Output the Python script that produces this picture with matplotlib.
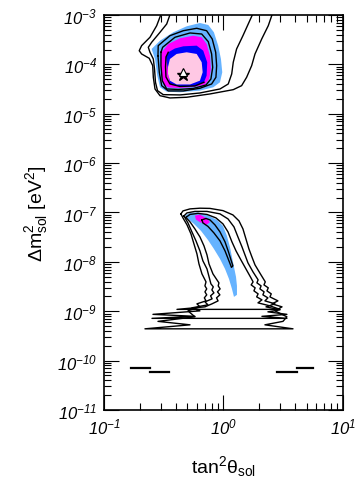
import numpy as np
import matplotlib
matplotlib.use("Agg")
import matplotlib.pyplot as plt

plt.rcParams["font.family"] = ["Liberation Sans", "DejaVu Sans"]
plt.rcParams["mathtext.fontset"] = "custom"
plt.rcParams["mathtext.rm"] = "Liberation Sans"
plt.rcParams["mathtext.it"] = "Liberation Sans:italic"
plt.rcParams["mathtext.sf"] = "Liberation Sans:italic"

# Region outlines, as (log10 tan^2, log10 dm^2) pairs
# --- LMA solution (upper island) ---
lma_blue = [(-0.601, -3.688), (-0.531, -3.520), (-0.420, -3.350), (-0.308, -3.229),
            (-0.197, -3.162), (-0.127, -3.202), (-0.080, -3.350), (-0.044, -3.621),
            (-0.021, -3.891), (-0.010, -4.160), (-0.029, -4.362), (-0.085, -4.464),
            (-0.197, -4.532), (-0.364, -4.565), (-0.475, -4.553), (-0.531, -4.464),
            (-0.554, -4.229), (-0.573, -3.891)]
lma_magenta = [(-0.523, -3.891), (-0.517, -3.755), (-0.462, -3.587), (-0.364, -3.472),
               (-0.253, -3.419), (-0.182, -3.451), (-0.141, -3.587), (-0.113, -3.824),
               (-0.105, -4.093), (-0.119, -4.296), (-0.155, -4.411), (-0.253, -4.458),
               (-0.364, -4.478), (-0.462, -4.468), (-0.504, -4.397), (-0.523, -4.160)]
lma_darkblue = [(-0.481, -3.850), (-0.462, -3.755), (-0.406, -3.678), (-0.336, -3.634),
                (-0.224, -3.621), (-0.169, -3.723), (-0.136, -3.957), (-0.141, -4.229),
                (-0.163, -4.362), (-0.239, -4.437), (-0.364, -4.447), (-0.448, -4.397)]
lma_pink = [(-0.464, -4.053), (-0.448, -3.891), (-0.392, -3.789), (-0.308, -3.755),
            (-0.224, -3.789), (-0.182, -3.957), (-0.174, -4.160), (-0.197, -4.330),
            (-0.280, -4.407), (-0.392, -4.407), (-0.448, -4.330), (-0.464, -4.194)]
lma_line_in = [(-0.163, -4.362), (-0.239, -4.437), (-0.364, -4.447), (-0.448, -4.397),
               (-0.481, -4.255), (-0.485, -4.053), (-0.481, -3.850), (-0.462, -3.755)]
lma_line2 = [(-0.523, -3.755), (-0.509, -3.654), (-0.406, -3.451), (-0.280, -3.364),
             (-0.182, -3.385), (-0.127, -3.540), (-0.099, -3.789), (-0.090, -4.059),
             (-0.105, -4.296), (-0.146, -4.417), (-0.253, -4.488), (-0.378, -4.508),
             (-0.475, -4.498), (-0.512, -4.330), (-0.523, -4.026)]
lma_line1 = [(-0.548, -3.824), (-0.546, -3.621), (-0.448, -3.419), (-0.336, -3.318),
             (-0.224, -3.269), (-0.141, -3.318), (-0.094, -3.486), (-0.065, -3.755),
             (-0.057, -4.026), (-0.063, -4.261), (-0.099, -4.397), (-0.197, -4.484),
             (-0.336, -4.538), (-0.462, -4.538), (-0.517, -4.431), (-0.537, -4.160)]
lma_open_a = [(-0.506, -2.879), (-0.559, -3.217), (-0.615, -3.451), (-0.685, -3.621),
              (-0.705, -3.723), (-0.685, -3.789), (-0.621, -3.877), (-0.592, -4.026),
              (-0.587, -4.261), (-0.573, -4.498), (-0.531, -4.634), (-0.448, -4.680),
              (-0.308, -4.666), (-0.113, -4.599), (0.082, -4.512), (0.152, -4.431),
              (0.194, -4.261), (0.236, -4.026), (0.264, -3.789), (0.320, -3.486),
              (0.375, -3.217), (0.423, -2.879)]
lma_open_b = [(-0.431, -2.879), (-0.475, -3.182), (-0.531, -3.350), (-0.601, -3.553),
              (-0.629, -3.654), (-0.615, -3.755), (-0.587, -3.891), (-0.577, -4.093),
              (-0.569, -4.362), (-0.552, -4.532), (-0.504, -4.613), (-0.364, -4.619),
              (-0.197, -4.579), (-0.029, -4.498), (0.040, -4.397), (0.069, -4.194),
              (0.082, -3.957), (0.110, -3.688), (0.163, -3.419), (0.264, -2.879)]
lma_best_star = (-0.336, -4.22)
lma_best_tri = (-0.336, -4.15)

# --- LOW solution (lower island) ---
low_blue = [(-0.322, -7.063), (-0.280, -7.008), (-0.213, -6.998), (-0.138, -7.049),
            (-0.054, -7.150), (-0.004, -7.271), (0.029, -7.474), (0.054, -7.696),
            (0.071, -7.899), (0.088, -8.101), (0.105, -8.304), (0.113, -8.486),
            (0.113, -8.668), (0.088, -8.709), (0.071, -8.547), (0.046, -8.344),
            (0.013, -8.142), (-0.029, -7.939), (-0.080, -7.737), (-0.130, -7.555),
            (-0.188, -7.372), (-0.247, -7.231), (-0.297, -7.130)]
low_magenta = [(-0.239, -7.063), (-0.197, -7.043), (-0.141, -7.115), (-0.113, -7.196),
               (-0.141, -7.245), (-0.197, -7.196), (-0.230, -7.144)]
low_line_in = [(-0.180, -7.150), (-0.146, -7.120), (-0.113, -7.150), (-0.071, -7.251),
               (-0.029, -7.393), (0.013, -7.595), (0.042, -7.798), (0.063, -7.960),
               (0.079, -8.081), (0.067, -8.111), (0.046, -7.980), (0.013, -7.777),
               (-0.029, -7.575), (-0.080, -7.413), (-0.130, -7.281), (-0.172, -7.211)]
low_c1 = [(-0.356, -7.028), (-0.339, -6.968), (-0.280, -6.927), (-0.197, -6.913),
          (-0.113, -6.917), (-0.004, -6.962), (0.079, -7.049), (0.130, -7.170),
          (0.163, -7.332), (0.188, -7.534), (0.213, -7.737), (0.238, -7.899),
          (0.264, -8.061), (0.314, -8.263), (0.350, -8.405), (0.339, -8.466),
          (0.375, -8.526), (0.364, -8.587), (0.400, -8.648), (0.389, -8.709),
          (0.456, -8.790), (0.406, -8.850), (0.490, -8.911), (0.431, -8.992),
          (0.531, -9.113), (0.498, -9.205), (0.347, -9.275), (0.582, -9.356),
          (-0.657, -9.356), (-0.280, -9.275), (-0.548, -9.205), (-0.239, -9.113),
          (-0.297, -8.992), (-0.197, -8.911), (-0.222, -8.850), (-0.146, -8.790),
          (-0.160, -8.729), (-0.140, -8.668), (-0.155, -8.607), (-0.140, -8.547),
          (-0.155, -8.486), (-0.146, -8.405), (-0.180, -8.243), (-0.205, -8.041),
          (-0.222, -7.838), (-0.247, -7.636), (-0.272, -7.433), (-0.305, -7.251),
          (-0.339, -7.109)]
low_c2 = [(-0.331, -7.069), (-0.305, -7.008), (-0.239, -6.978), (-0.138, -6.978),
          (-0.029, -7.028), (0.038, -7.130), (0.088, -7.292), (0.121, -7.494),
          (0.155, -7.696), (0.180, -7.858), (0.205, -8.020), (0.247, -8.202),
          (0.290, -8.364), (0.280, -8.425), (0.315, -8.486), (0.305, -8.547),
          (0.340, -8.607), (0.330, -8.668), (0.372, -8.729), (0.347, -8.790),
          (0.431, -8.850), (0.356, -8.911), (0.473, -8.972), (0.372, -9.012),
          (0.531, -9.063), (0.322, -9.103), (0.531, -9.144), (-0.598, -9.144),
          (-0.239, -9.103), (-0.590, -9.063), (-0.197, -8.992), (-0.264, -8.931),
          (-0.130, -8.870), (-0.155, -8.810), (-0.095, -8.749), (-0.108, -8.688),
          (-0.080, -8.628), (-0.097, -8.567), (-0.085, -8.506), (-0.105, -8.445),
          (-0.138, -8.142), (-0.172, -7.980), (-0.197, -7.777), (-0.230, -7.575),
          (-0.264, -7.393), (-0.297, -7.211)]
low_c3 = [(-0.314, -7.099), (-0.280, -7.039), (-0.213, -7.018), (-0.138, -7.039),
          (-0.063, -7.109), (-0.004, -7.231), (0.038, -7.393), (0.071, -7.595),
          (0.105, -7.777), (0.146, -7.960), (0.188, -8.142), (0.230, -8.324),
          (0.248, -8.405), (0.232, -8.466), (0.265, -8.526), (0.255, -8.587),
          (0.290, -8.648), (0.278, -8.709), (0.322, -8.769), (0.289, -8.830),
          (0.389, -8.891), (0.473, -8.962), (-0.389, -8.962), (-0.155, -8.911),
          (-0.096, -8.850), (-0.045, -8.790), (-0.058, -8.729), (-0.030, -8.668),
          (-0.050, -8.607), (-0.028, -8.547), (-0.044, -8.486), (-0.038, -8.425),
          (-0.088, -8.243), (-0.121, -8.041), (-0.138, -7.858), (-0.163, -7.676),
          (-0.197, -7.494), (-0.239, -7.332), (-0.280, -7.190)]

# --- VAC slivers near 1e-10: (x_start, x_end, y) ---
vac_segments = [(-0.772, -0.618, -10.140), (-0.618, -0.456, -10.221),
                (0.450, 0.618, -10.221), (0.618, 0.749, -10.140)]

c_lightblue = "#66b3ff"
c_magenta = "#ff00ff"
c_darkblue = "#0000ff"
c_pink = "#ffc8e4"


def to_lin(pts, close=False):
    a = np.array(pts)
    if close:
        a = np.vstack([a, a[:1]])
    return 10 ** a[:, 0], 10 ** a[:, 1]


fig = plt.figure(figsize=(3.61, 4.85), dpi=100)
ax = fig.add_axes([0.288, 0.1526, 0.662, 0.8144])
ax.set_xscale("log")
ax.set_yscale("log")
ax.set_xlim(0.1, 10)
ax.set_ylim(1e-11, 1e-3)

# Filled confidence regions
for pts, col in [(lma_blue, c_lightblue), (lma_magenta, c_magenta),
                 (lma_darkblue, c_darkblue), (lma_pink, c_pink),
                 (low_blue, c_lightblue), (low_magenta, c_magenta)]:
    x, y = to_lin(pts)
    ax.fill(x, y, color=col, lw=0)

# Closed contour lines
for pts in [lma_line2, lma_line1, low_line_in, low_c1, low_c2, low_c3]:
    x, y = to_lin(pts, close=True)
    ax.plot(x, y, color="k", lw=1.0)

# Open contour lines
for pts in [lma_line_in, lma_open_a, lma_open_b]:
    x, y = to_lin(pts)
    ax.plot(x, y, color="k", lw=1.0)

for x0, x1, yv in vac_segments:
    ax.plot([10 ** x0, 10 ** x1], [10 ** yv, 10 ** yv], color="k", lw=1.6)

# Best-fit markers
ax.plot(10 ** lma_best_star[0], 10 ** lma_best_star[1], marker="*", color="k", ms=9)
ax.plot(10 ** lma_best_tri[0], 10 ** lma_best_tri[1], marker="^", mfc="white",
        mec="k", ms=6, mew=0.8)

# Axes styling
yexp = list(range(-11, -2))
xexp = [-1, 0, 1]
ax.set_yticks([10.0 ** e for e in yexp])
ax.set_yticklabels([r"$\mathsf{10^{%d}}$" % e for e in yexp])
ax.set_xticks([10.0 ** e for e in xexp])
ax.set_xticklabels([r"$\mathsf{10^{%d}}$" % e for e in xexp])
ax.yaxis.set_minor_locator(matplotlib.ticker.LogLocator(base=10, subs=np.arange(2, 10), numticks=20))
ax.xaxis.set_minor_locator(matplotlib.ticker.LogLocator(base=10, subs=np.arange(2, 10), numticks=20))
ax.yaxis.set_minor_formatter(matplotlib.ticker.NullFormatter())
ax.xaxis.set_minor_formatter(matplotlib.ticker.NullFormatter())
ax.tick_params(which="both", direction="in", top=True, right=True, width=0.8)
ax.tick_params(which="major", length=11, labelsize=12, pad=5)
ax.tick_params(which="minor", length=5)
for s in ax.spines.values():
    s.set_linewidth(1.2)

ax.set_xlabel(r"$\mathrm{tan}^2\mathrm{\theta}_{\mathrm{sol}}$", fontsize=14, labelpad=12)
ax.set_ylabel(r"$\Delta\mathrm{m}^2_{\mathrm{sol}}$ [eV$^2$]", fontsize=14, labelpad=5)

fig.savefig("out.png", dpi=100)
